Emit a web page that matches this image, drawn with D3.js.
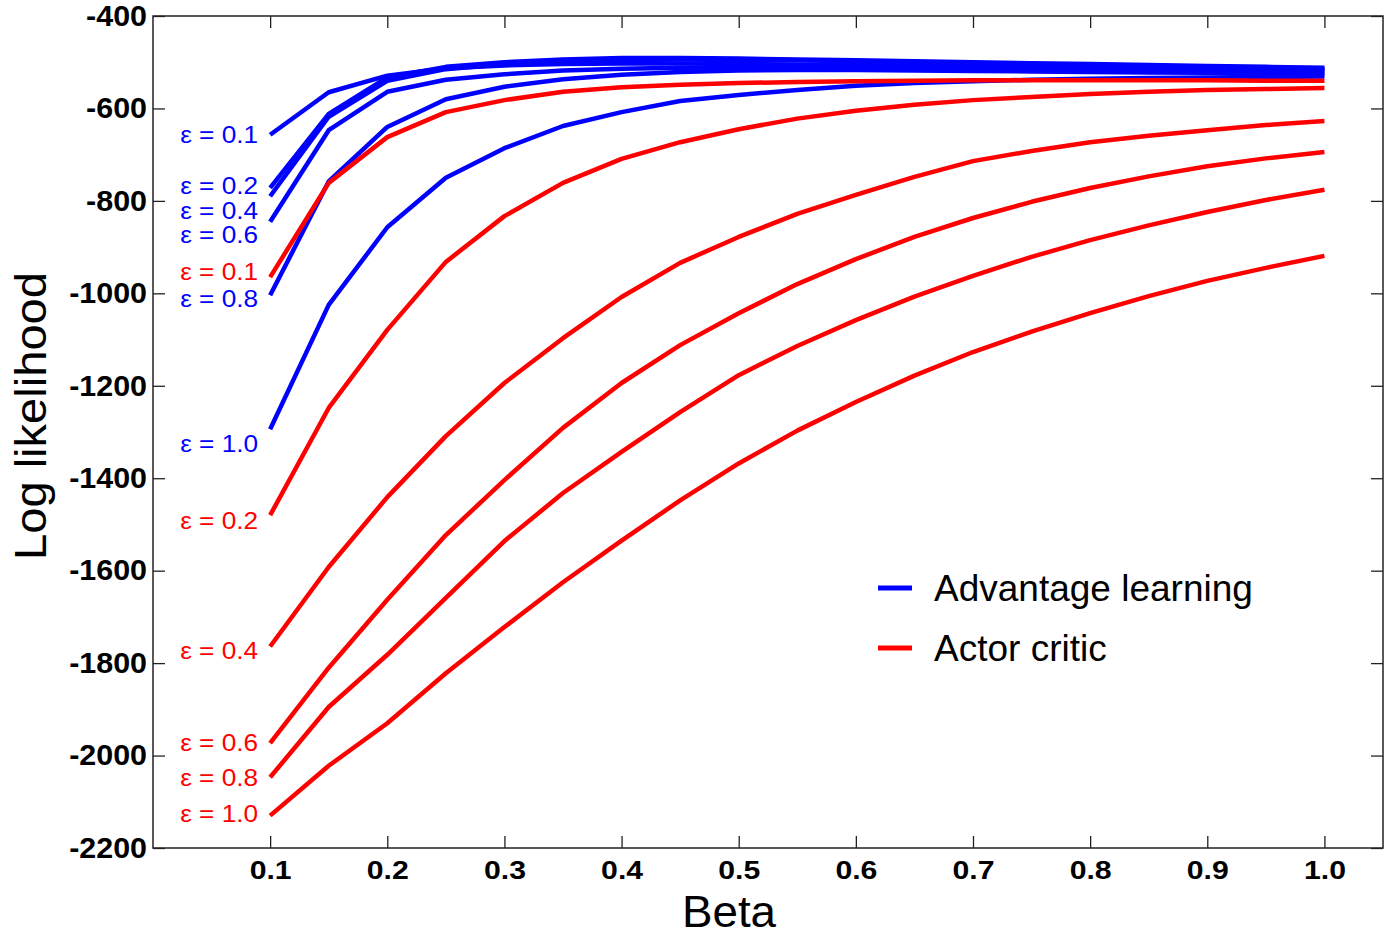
<!DOCTYPE html>
<html>
<head>
<meta charset="utf-8">
<script src="https://cdn.jsdelivr.net/npm/d3@7"></script>
<style>
  html, body { margin: 0; padding: 0; background: #fff; }
  svg { display: block; }
  text { font-family: "Liberation Sans", Arial, sans-serif; }
</style>
</head>
<body>
<svg id="chart" width="1390" height="937"></svg>
<script>
// ---- data ----
const betas = [0.1,0.15,0.2,0.25,0.3,0.35,0.4,0.45,0.5,0.55,0.6,0.65,0.7,0.75,0.8,0.85,0.9,0.95,1.0];
const xTicks = [0.1,0.2,0.3,0.4,0.5,0.6,0.7,0.8,0.9,1.0];
const yTicks = [-400,-600,-800,-1000,-1200,-1400,-1600,-1800,-2000,-2200];

// Advantage learning (blue)
const advEps = ["0.1","0.2","0.4","0.6","0.8","1.0"];
const adv01 = [-657,-565,-529,-513,-507,-504,-503,-503,-504,-505,-506,-508,-509,-510,-511,-512,-513,-514,-515];
const adv02 = [-772,-612,-533,-510,-500,-494,-491,-491,-492,-494,-496,-498,-500,-502,-504,-506,-508,-510,-512];
const adv04 = [-790,-618,-540,-515,-504,-498,-495,-494,-495,-496,-498,-500,-503,-505,-507,-509,-511,-514,-516];
const adv06 = [-845,-647,-564,-538,-526,-518,-514,-512,-512,-513,-514,-515,-516,-517,-518,-519,-520,-521,-522];
const adv08 = [-1004,-758,-640,-580,-553,-537,-527,-521,-518,-517,-517,-518,-519,-520,-521,-522,-523,-524,-526];
const adv10 = [-1294,-1025,-857,-750,-686,-638,-608,-584,-571,-560,-551,-545,-541,-538,-536,-534,-533,-532,-531];

// Actor critic (red)
const acEps = ["0.1","0.2","0.4","0.6","0.8","1.0"];
const ac01 = [-965,-761,-662,-608,-582,-564,-554,-549,-545,-543,-541,-540,-539,-539,-539,-539,-539,-540,-540];
const ac02 = [-1480,-1248,-1079,-932,-833,-761,-709,-673,-645,-622,-605,-592,-582,-575,-569,-564,-560,-558,-556];
const ac04 = [-1764,-1592,-1441,-1309,-1194,-1097,-1008,-934,-878,-828,-787,-748,-714,-692,-673,-659,-647,-636,-627];
const ac06 = [-1973,-1810,-1663,-1523,-1404,-1291,-1194,-1112,-1043,-980,-926,-878,-837,-802,-772,-747,-725,-708,-694];
const ac08 = [-2047,-1895,-1782,-1659,-1536,-1432,-1343,-1257,-1177,-1114,-1058,-1007,-962,-921,-885,-853,-824,-798,-776];
const ac10 = [-2130,-2022,-1930,-1822,-1722,-1625,-1535,-1448,-1368,-1297,-1235,-1178,-1127,-1083,-1043,-1006,-973,-945,-919];

// label anchor values (data units, at beta = 0.1)
const advLabelY = [-657,-768,-822,-874,-1012,-1326];
const acLabelY = [-954,-1493,-1774,-1973,-2049,-2126];

const legendNames = ["Advantage learning","Actor critic"];
const blue = "#0000ff", red = "#ff0000";

// ---- layout ----
const svg = d3.select("#chart");
const L = 153, R = 1383, T = 16, B = 848;
const x = d3.scaleLinear().domain([0, 1.05]).range([L, R]);
const y = d3.scaleLinear().domain([-2200, -400]).range([B, T]);

const line = d3.line().x((d, i) => x(betas[i])).y(d => y(d));

const advSeries = [adv01, adv02, adv04, adv06, adv08, adv10];
const acSeries = [ac01, ac02, ac04, ac06, ac08, ac10];

const gLines = svg.append("g");
advSeries.forEach(s => gLines.append("path").attr("d", line(s)).attr("fill","none")
  .attr("stroke", blue).attr("stroke-width", 4.5).attr("stroke-linejoin","round"));
acSeries.forEach(s => gLines.append("path").attr("d", line(s)).attr("fill","none")
  .attr("stroke", red).attr("stroke-width", 4.5).attr("stroke-linejoin","round"));

// stretch helper: widen text horizontally by factor k
function stretch(sel, k) {
  sel.each(function() {
    const len = this.getComputedTextLength();
    d3.select(this).attr("textLength", len * k).attr("lengthAdjust", "spacingAndGlyphs");
  });
}

// labels
const gLab = svg.append("g").attr("font-size", 23).attr("text-anchor","end");
advEps.forEach((e, i) => gLab.append("text").attr("x", x(0.1) - 12).attr("y", y(advLabelY[i]))
  .attr("dy","0.35em").attr("fill", blue).text("ε = " + e));
acEps.forEach((e, i) => gLab.append("text").attr("x", x(0.1) - 12).attr("y", y(acLabelY[i]))
  .attr("dy","0.35em").attr("fill", red).text("ε = " + e));
gLab.selectAll("text").attr("textLength", 78).attr("lengthAdjust","spacingAndGlyphs");

// box
svg.append("rect").attr("x", L).attr("y", T).attr("width", R - L).attr("height", B - T)
  .attr("fill","none").attr("stroke","#222").attr("stroke-width",1.5);

// axes
const axStyle = g => {
  g.select(".domain").remove();
  g.selectAll(".tick line").attr("stroke","#222").attr("stroke-width",1.3);
  g.selectAll(".tick text").attr("fill","#000").attr("font-weight","bold")
    .attr("font-family",'"Liberation Sans", Arial, sans-serif');
};
svg.append("g").attr("transform",`translate(${L},0)`)
  .call(d3.axisLeft(y).tickValues(yTicks).tickFormat(d => String(d)).tickSizeInner(-12).tickSizeOuter(0).tickPadding(6))
  .call(axStyle).call(g => { g.selectAll(".tick text").attr("font-size",29); stretch(g.selectAll(".tick text"), 1.05); });
svg.append("g").attr("transform",`translate(${R},0)`)
  .call(d3.axisRight(y).tickValues(yTicks).tickFormat("").tickSizeInner(-12).tickSizeOuter(0))
  .call(axStyle);
svg.append("g").attr("transform",`translate(0,${B})`)
  .call(d3.axisBottom(x).tickValues(xTicks).tickFormat(d3.format(".1f")).tickSizeInner(-12).tickSizeOuter(0).tickPadding(13))
  .call(axStyle).call(g => { g.selectAll(".tick text").attr("font-size",25).attr("textLength",42).attr("lengthAdjust","spacingAndGlyphs"); });
svg.append("g").attr("transform",`translate(0,${T})`)
  .call(d3.axisTop(x).tickValues(xTicks).tickFormat("").tickSizeInner(-12).tickSizeOuter(0))
  .call(axStyle);

// axis titles
svg.append("text").attr("x", 729).attr("y", 927).attr("text-anchor","middle")
  .attr("font-size", 45).attr("fill","#000").attr("textLength", 94).attr("lengthAdjust","spacingAndGlyphs").text("Beta");
svg.append("text").attr("transform","translate(46,416) rotate(-90)").attr("text-anchor","middle")
  .attr("font-size", 45).attr("fill","#000").attr("textLength", 288).attr("lengthAdjust","spacingAndGlyphs").text("Log likelihood");

// legend
const legColors = [blue, red];
const gLeg = svg.append("g");
legendNames.forEach((n, i) => {
  const cy = 588 + i * 60;
  gLeg.append("line").attr("x1", 878).attr("x2", 912).attr("y1", cy).attr("y2", cy)
    .attr("stroke", legColors[i]).attr("stroke-width", 5);
  gLeg.append("text").attr("x", 934).attr("y", cy).attr("dy","0.35em")
    .attr("font-size", 37).attr("fill","#000").text(n);
});
</script>
</body>
</html>
